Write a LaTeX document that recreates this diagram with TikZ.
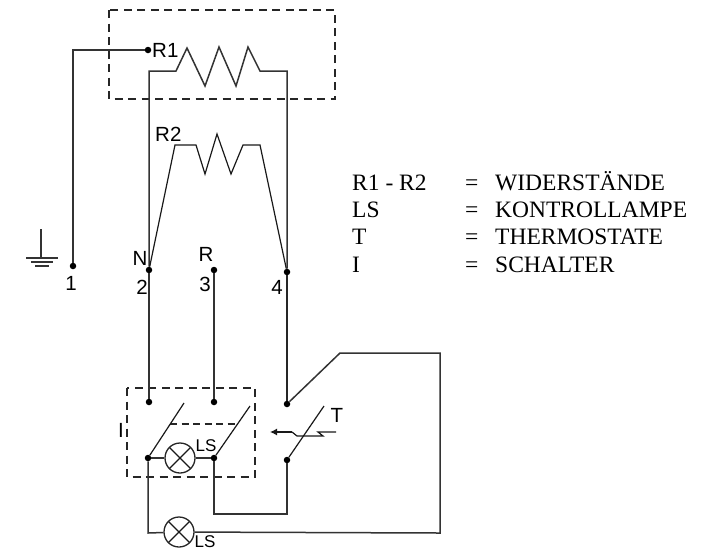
\documentclass[tikz,border=0pt]{standalone}
\usepackage{fontspec}
\setmainfont{Liberation Serif}
\setsansfont{Liberation Sans}
\usetikzlibrary{arrows.meta}

\begin{document}
\begin{tikzpicture}[
  x=1pt, y=-1pt,
  wire/.style = {line width=1.5pt, draw=black!80},
  thick wire/.style = {line width=2.2pt, draw=black!85},
  thin wire/.style = {line width=1.2pt, draw=black!90},
  frame/.style = {line width=1.6pt, draw=black!85, dash pattern=on 8pt off 5.5pt},
  dot/.style = {circle, fill=black, inner sep=0pt, minimum size=6.5pt},
  lamp/.style = {circle, draw=black!85, line width=1.3pt, inner sep=0pt, minimum size=30pt, path picture={
    \draw[thin wire] (path picture bounding box.north west) -- (path picture bounding box.south east);
    \draw[thin wire] (path picture bounding box.north east) -- (path picture bounding box.south west);}},
  label/.style = {font=\sffamily\fontsize{20.5}{20.5}\selectfont, inner sep=0pt, text=black},
  small label/.style = {font=\sffamily\fontsize{17}{17}\selectfont, inner sep=0pt, text=black},
  legend/.style = {font=\fontsize{23.5}{23.5}\selectfont, inner sep=0pt, anchor=base west}
]
  \useasboundingbox (0,0) rectangle (711,550);

  % terminals
  \node[dot] (r1) at (148,50) {};
  \node[dot] (t1) at (73,266) {};
  \node[dot] (t2) at (149,270) {};
  \node[dot] (t3) at (214,270) {};
  \node[dot] (t4) at (287,272) {};

  % switch and thermostat contacts
  \node[dot] (sa) at (149,402) {};
  \node[dot] (sb) at (214,402) {};
  \node[dot] (sc) at (148,458) {};
  \node[dot] (sd) at (214,458) {};
  \node[dot] (ta) at (287,404) {};
  \node[dot] (tb) at (287,460) {};
  \coordinate (bladea) at (184,403);
  \coordinate (bladeb) at (250,406);
  \coordinate (bladet) at (324,406);
  \coordinate (linka) at (170,424);
  \coordinate (linkb) at (237,424);

  % lamps
  \node[lamp] (lampa) at (180,458) {};
  \node[lamp] (lampb) at (179,532) {};

  % dashed frames
  \draw[frame] (109,10) rectangle (335,99);
  \draw[frame] (127,388) rectangle (255,477);
  \draw[line width=1.3pt, draw=black!85, dash pattern=on 7pt off 4.5pt] (linka) -- (linkb);

  % R1 with its earth wire
  \draw[wire] (r1) -- (73,50) -- (t1);
  \draw[wire] (t2) -- (149,71) -- (176,71) -- (187,48) -- (205,86) -- (219,47)
    -- (236,86) -- (248,47) -- (260,71) -- (287,71) -- (t4);
  % R2
  \draw[thin wire] (t2) -- (175,145) -- (196,145) -- (205,174) -- (217,134)
    -- (231,174) -- (243,145) -- (260,145) -- (t4);

  % earth symbol
  \coordinate (gnd) at (41,258);
  \draw[wire] (41,229) -- (gnd);
  \draw[wire] (26,258) -- (58,258);
  \draw[wire] (31,262) -- (53,262);
  \draw[wire] (35,266) -- (49,266);

  % lower wiring
  \draw[wire] (t2) -- (sa);
  \draw[wire] (t3) -- (sb);
  \draw[thick wire] (t4) -- (ta);
  \draw[thin wire] (sc) -- (bladea);
  \draw[thin wire] (sd) -- (bladeb);
  \draw[thin wire] (tb) -- (bladet);
  \draw[wire] (sc) -- (lampa);
  \draw[wire] (lampa) -- (sd);
  \draw[wire] (sd) -- (214,514) -- (287,514) -- (tb);
  \draw[wire] (sc) -- (148,533) -- (lampb);
  \draw[wire] (lampb) -- (440,533) -- (440,353) -- (340,353) -- (ta);

  % thermostat sensor
  \draw[thin wire, -{Latex[length=7pt,width=7pt]}] (292,432) -- (270,432);
  \draw[thin wire] (292,432) -- (297,436) -- (323,436) -- (318,432) -- (336,432);

  % labels
  \node[label, anchor=base west] (lr1) at (152,57) {R1};
  \node[label, anchor=base west] (lr2) at (155,141) {R2};
  \node[label] (ln) at (140,258) {N};
  \node[label] (lr) at (206,254) {R};
  \node[label] (l1) at (71,283) {1};
  \node[label] (l2) at (142,287) {2};
  \node[label] (l3) at (205,284) {3};
  \node[label] (l4) at (277,287) {4};
  \node[label] (li) at (121,430) {I};
  \node[label] (lt) at (337,415) {T};
  \node[small label] (lsa) at (206,446) {LS};
  \node[small label] (lsb) at (205,542) {LS};

  % legend
  \node[legend] (ka) at (352,190) {R1 - R2};
  \node[legend] (kb) at (352,217) {LS};
  \node[legend] (kc) at (352,244) {T};
  \node[legend] (kd) at (352,272) {I};
  \node[legend] (ea) at (465,190) {=};
  \node[legend] (eb) at (465,217) {=};
  \node[legend] (ec) at (465,244) {=};
  \node[legend] (ed) at (465,272) {=};
  \node[legend] (va) at (495,190) {WIDERSTÄNDE};
  \node[legend] (vb) at (495,217) {KONTROLLAMPE};
  \node[legend] (vc) at (495,244) {THERMOSTATE};
  \node[legend] (vd) at (495,272) {SCHALTER};
\end{tikzpicture}
\end{document}
